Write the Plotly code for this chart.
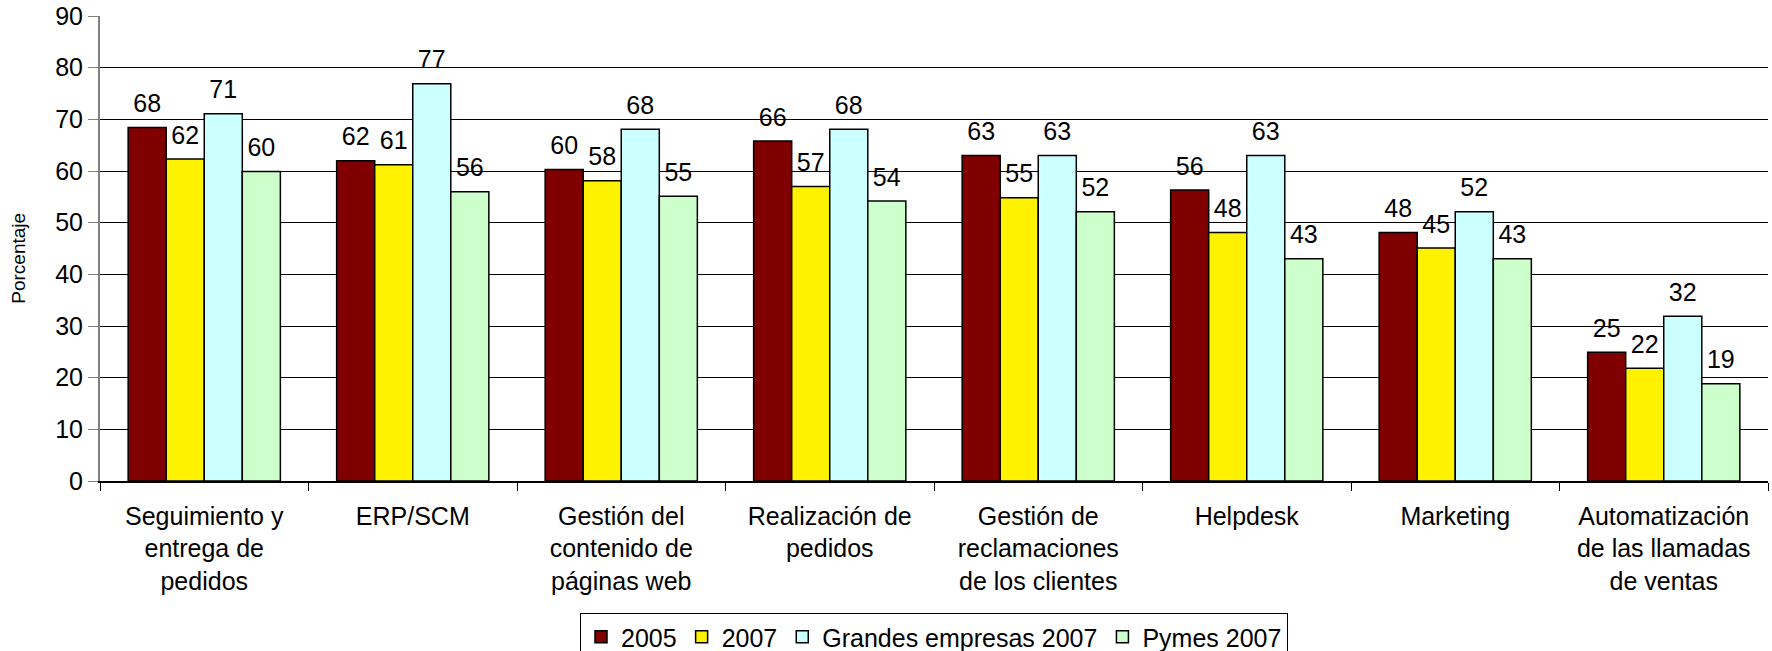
import plotly.graph_objects as go

categories = [
    "Seguimiento y<br>entrega de<br>pedidos",
    "ERP/SCM",
    "Gestión del<br>contenido de<br>páginas web",
    "Realización de<br>pedidos",
    "Gestión de<br>reclamaciones<br>de los clientes",
    "Helpdesk",
    "Marketing",
    "Automatización<br>de las llamadas<br>de ventas",
]
v2005 = [68.4, 62.0, 60.3, 65.8, 63.0, 56.3, 48.1, 24.9]
v2007 = [62.3, 61.2, 58.1, 57.0, 54.8, 48.1, 45.1, 21.8]
v_grandes = [71.1, 76.9, 68.1, 68.1, 63.0, 63.0, 52.1, 31.9]
v_pymes = [59.9, 56.0, 55.1, 54.2, 52.1, 43.0, 43.0, 18.8]

series_names = ["2005", "2007", "Grandes empresas 2007", "Pymes 2007"]
series_values = [v2005, v2007, v_grandes, v_pymes]
colors = ["#800000", "#FFF200", "#CCFFFF", "#CCFFCC"]

FONT = "Liberation Sans, Arial, sans-serif"
FS = 25

fig = go.Figure()
for name, vals, col in zip(series_names, series_values, colors):
    fig.add_trace(go.Bar(
        x=categories, y=vals, name=name,
        marker=dict(color=col, line=dict(color="#000000", width=1.5)),
        text=vals,
        texttemplate="<span style='font-size:%dpx'>%%{y:.0f}</span><br> " % FS,
        textposition="outside",
        textfont=dict(family=FONT, size=8, color="#000000"),
        constraintext="none", cliponaxis=False,
    ))

fig.update_layout(
    width=1772, height=651,
    margin=dict(l=100, r=4, t=16, b=170, autoexpand=False),
    paper_bgcolor="white", plot_bgcolor="white",
    barmode="group", bargap=0.27, bargroupgap=0,
    font=dict(family=FONT, size=FS, color="#000000"),
    showlegend=True,
    legend=dict(
        orientation="h", x=0.5, xanchor="center", y=-0.284, yanchor="top",
        bordercolor="#000000", borderwidth=1,
        font=dict(family=FONT, size=FS, color="#000000"),
        itemwidth=30, tracegroupgap=0,
    ),
    annotations=[dict(
        text="Porcentaje", textangle=-90, xref="paper", yref="paper",
        x=-0.0486, y=0.48, xanchor="center", yanchor="middle", showarrow=False,
        font=dict(family=FONT, size=19, color="#000000"),
    )],
)
fig.update_yaxes(
    range=[0, 90], dtick=10, tick0=0, automargin=False,
    showgrid=True, gridcolor="#000000", gridwidth=1,
    showline=True, linecolor="#808080", linewidth=2,
    ticks="outside", ticklen=10, tickcolor="#808080",
    tickfont=dict(family=FONT, size=FS), ticklabelstandoff=0,
    ticklabeloverflow="allow",
    zeroline=False,
)
fig.update_xaxes(
    automargin=False,
    showline=True, linecolor="#000000", linewidth=1.5,
    ticks="outside", ticklen=8, tickcolor="#000000", tickson="boundaries",
    tickfont=dict(family=FONT, size=FS), ticklabelstandoff=12,
    tickangle=0,
)

fig.write_html(
    "out.html",
    config={"displayModeBar": False},
    post_script="document.body.style.margin='0';document.body.style.overflow='hidden';",
)
